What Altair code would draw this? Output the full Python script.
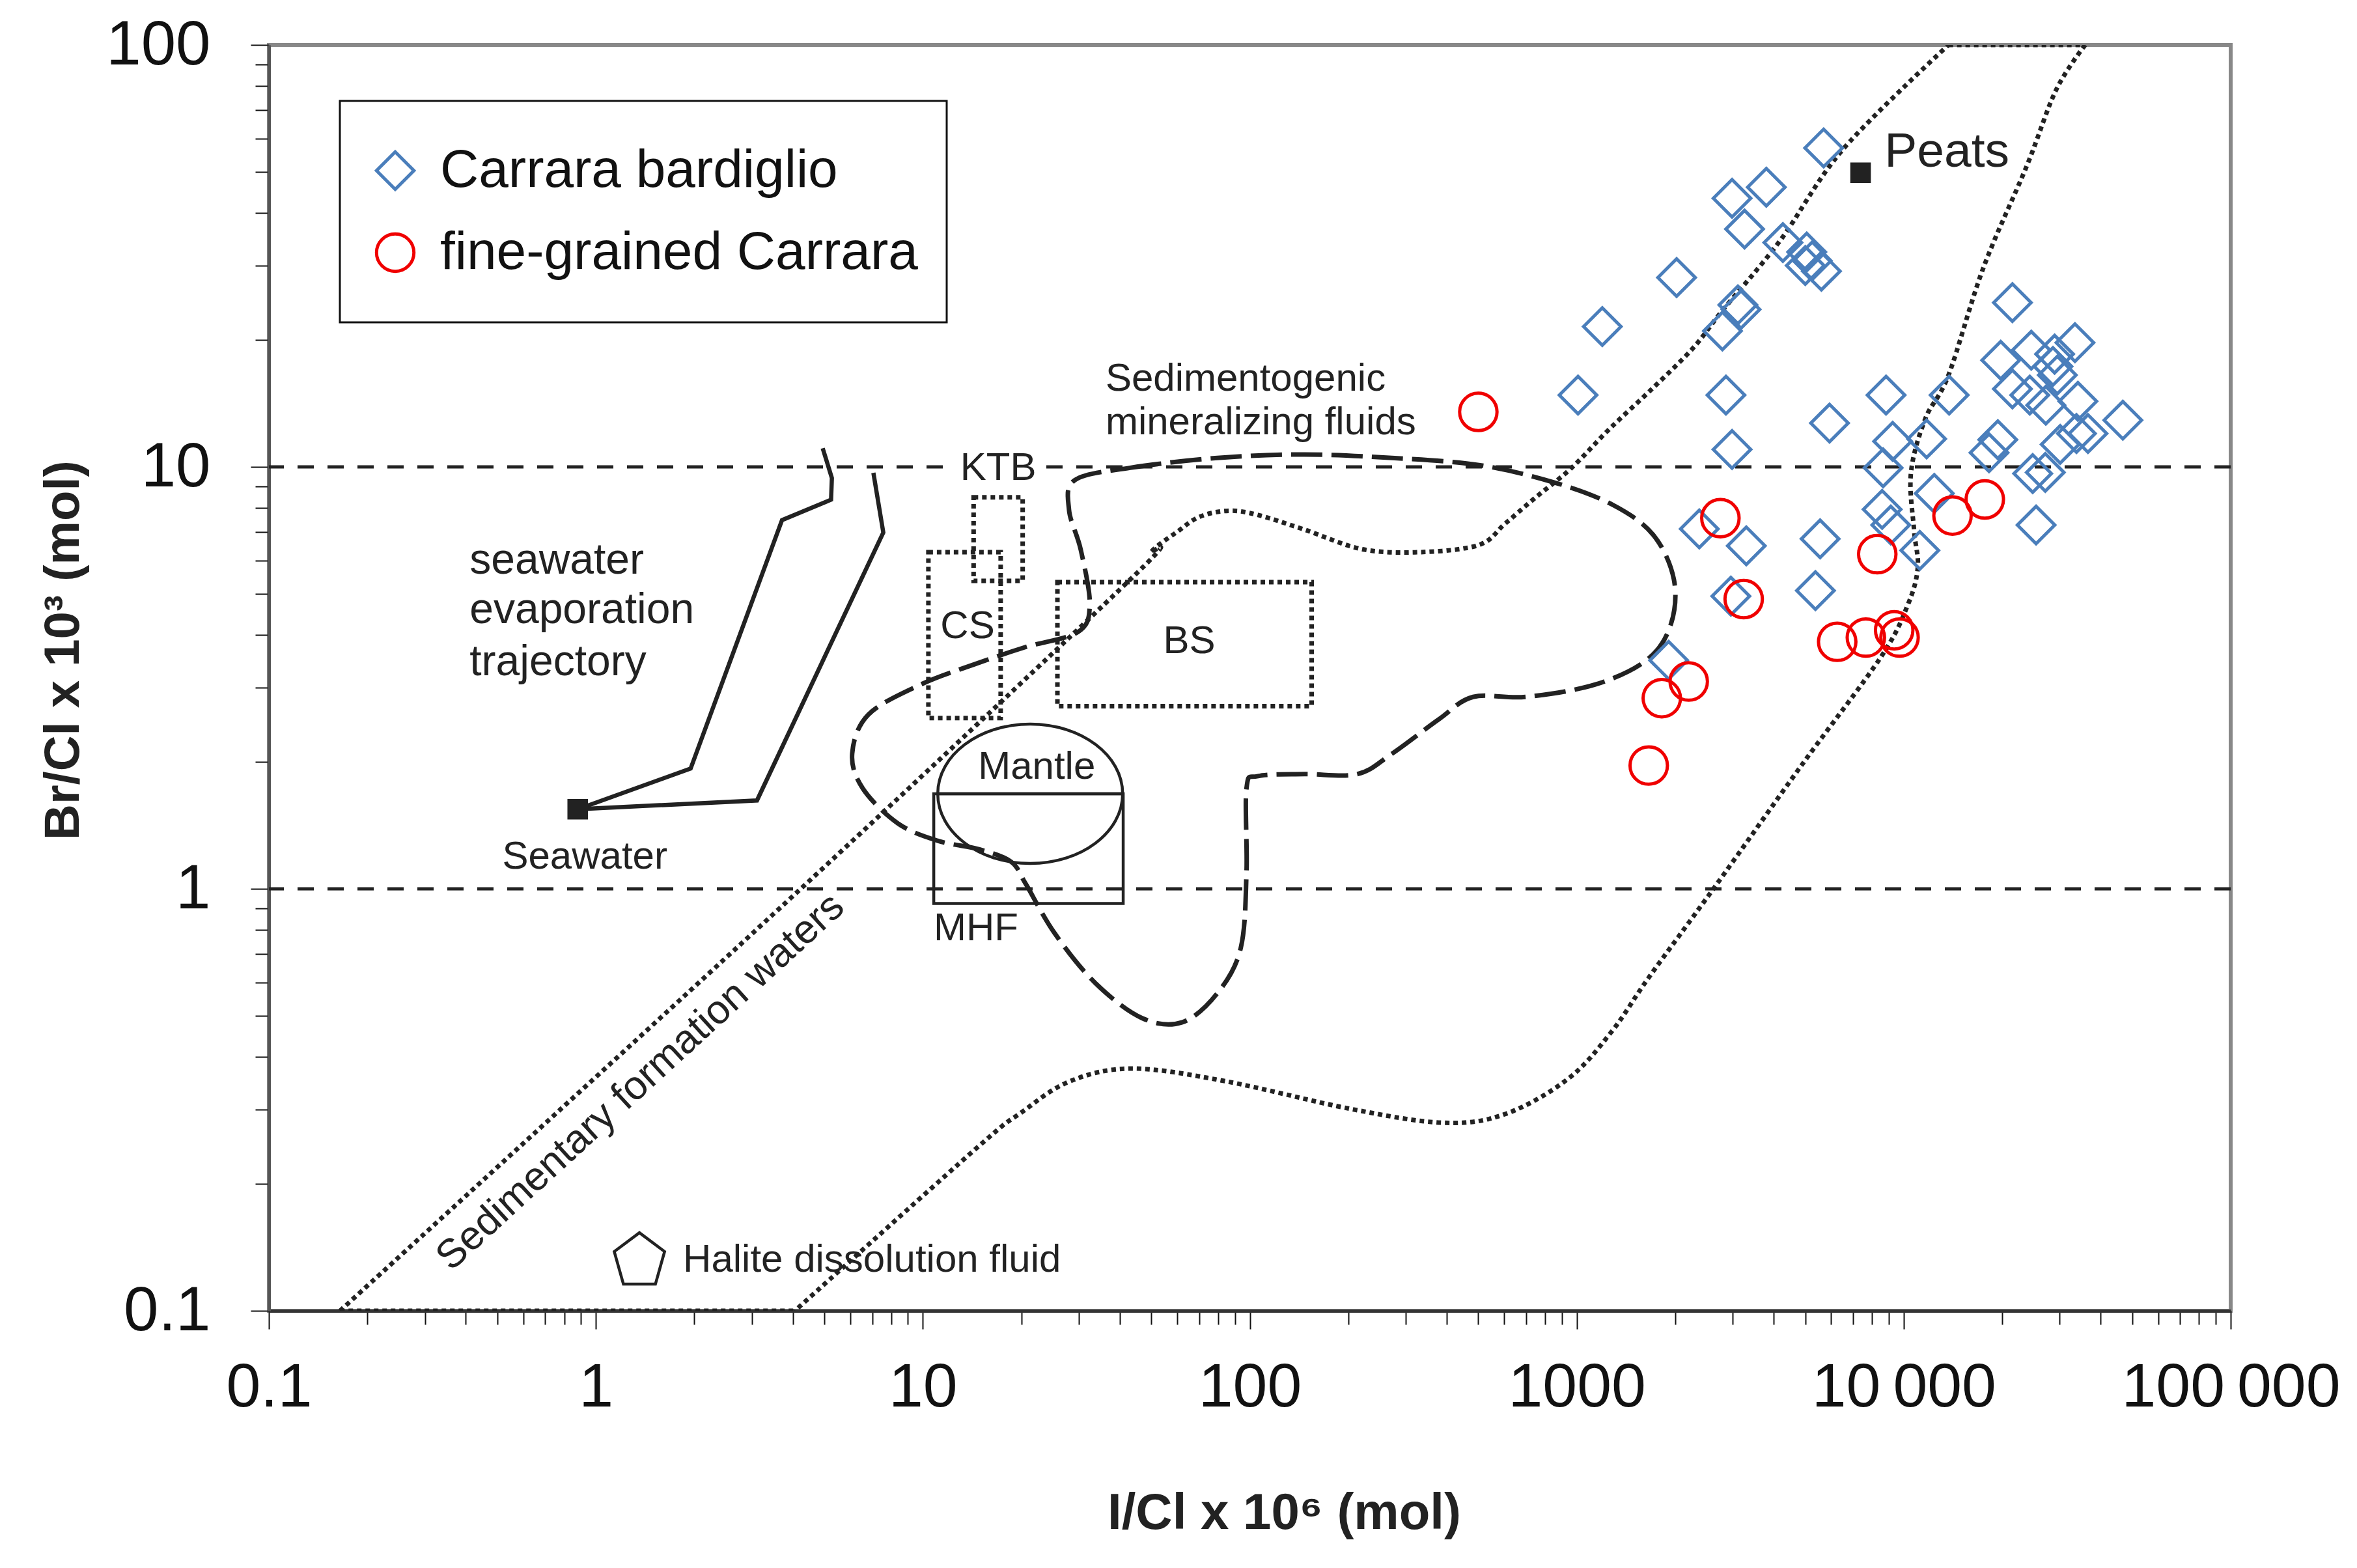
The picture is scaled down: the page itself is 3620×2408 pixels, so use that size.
import json
import altair as alt
import pandas as pd

# ---------------- sample data ----------------
series_names = ["Carrara bardiglio", "fine-grained Carrara"]

bard_x = [5690, 3800, 2985, 3260, 4270, 5050, 5250, 5000, 5600, 2020, 3110, 3180, 2790, 1197,
          21500, 19800, 24550, 33400, 28940, 28600, 29500, 21500, 24300, 27200, 34100, 46800,
          33750, 36600, 30100, 19400, 18240, 24800, 27100, 25400,
          1009, 2860, 8830, 13770, 5930, 9250, 11750, 2985, 8650, 12400, 8590, 9130, 11200,
          2370, 3300, 5550, 5370, 2960, 1910]
bard_y = [57, 46, 43.3, 36.6, 34.0, 32.3, 30.8, 30.0, 29.1, 28.1, 24.2, 23.6, 21.0, 21.5,
          24.5, 17.9, 18.9, 19.7, 18.5, 17.3, 16.5, 15.3, 14.8, 14.0, 14.3, 12.9,
          12.0, 12.0, 11.3, 11.6, 10.8, 9.64, 9.7, 7.28,
          14.8, 14.8, 14.8, 14.8, 12.7, 11.5, 11.65, 11.0, 9.95, 8.65, 7.93, 7.28, 6.34,
          7.13, 6.50, 6.75, 5.09, 4.94, 3.48]

fine_x = [500, 2750, 3240, 8300, 14100, 17700, 6260, 7660, 9350, 9710, 2200, 1820, 1660]
fine_y = [13.5, 7.56, 4.86, 6.21, 7.67, 8.37, 3.85, 3.94, 4.10, 3.94, 3.10, 2.83, 1.96]

# reference end-members (black squares)
ref_names = ["Peats", "Seawater"]
ref_x = [7380, 0.88]
ref_y = [49.8, 1.544]

# seawater evaporation trajectory (two solid lines)
traj1_x = [0.88, 1.949, 3.71, 5.24, 5.27, 4.94]
traj1_y = [1.544, 1.928, 7.48, 8.36, 9.41, 11.07]
traj2_x = [0.88, 3.11, 7.57, 7.06]
traj2_y = [1.544, 1.62, 6.99, 9.68]

# sedimentogenic mineralizing fluids field (dashed closed curve)
sed_x = [29.2, 43.1, 79.6, 147, 272, 502, 855, 1288, 1714, 1982, 1941, 1648, 1140, 697, 482,
         378, 272, 213, 147, 106, 97.7, 97.7, 93.8, 79.6, 62.2, 46.8, 33.7, 25.3, 20.6, 18.6,
         14.9, 11.1, 8.38, 6.55, 6.08, 6.82, 9.86, 14.3, 20.6, 29.8, 32.4, 30.4, 28.0]
sed_y = [9.31, 9.95, 10.5, 10.7, 10.5, 10.1, 9.18, 8.13, 6.90, 5.41, 4.24, 3.50, 3.05, 2.85, 2.85,
         2.52, 2.09, 1.87, 1.87, 1.85, 1.73, 1.09, 0.723, 0.566, 0.483, 0.494, 0.598, 0.785, 1.03, 1.16,
         1.24, 1.30, 1.43, 1.73, 2.09, 2.59, 3.05, 3.40, 3.74, 4.06, 4.72, 6.37, 7.91]

# sedimentary formation waters field (dotted), split into four edges
sfw_left_x = [0.165, 4.19, 43.1, 50.1, 59.7, 70.3, 86.3, 106, 147, 221, 333, 502, 603, 741, 962,
              1259, 1698, 2265, 2780, 4178, 6561, 13710]
sfw_left_y = [0.1, 0.993, 5.41, 6.31, 7.00, 7.62, 7.87, 7.69, 7.10, 6.38, 6.28, 6.53, 7.33, 8.41, 9.93,
              12.3, 15.3, 19.1, 23.4, 34.3, 56.9, 100]
sfw_right_x = [35890, 29240, 23820, 17540, 13710, 11640, 10520, 10760, 11040, 10280, 8490, 4887,
               2642, 1667, 1279, 942, 607, 392, 203, 84.3, 43.8, 28.2, 20.0, 14.6, 4.06]
sfw_right_y = [100, 78.2, 51.8, 29.7, 16.5, 13.0, 9.66, 7.06, 5.77, 4.70, 3.53, 1.97,
               1.01, 0.619, 0.459, 0.355, 0.293, 0.279, 0.301, 0.350, 0.375, 0.350, 0.295, 0.243, 0.1]
sfw_top_x = [13710, 35890]
sfw_top_y = [100, 100]
sfw_bottom_x = [0.165, 4.06]
sfw_bottom_y = [0.1, 0.1]

# dotted boxes
box_names = ["KTB", "CS", "BS"]
box_x1 = [14.3, 10.4, 25.8]
box_x2 = [20.2, 17.3, 154.6]
box_y1 = [5.37, 2.54, 2.71]
box_y2 = [8.47, 6.28, 5.33]

# MHF solid box
mhf_x1, mhf_x2, mhf_y1, mhf_y2 = [10.8], [41.0], [0.923], [1.68]
# white patch behind the KTB label
ktb_bg_x1, ktb_bg_x2, ktb_bg_y1, ktb_bg_y2 = [12.2], [23.6], [9.06], [10.8]

# mantle ellipse centre, halite pentagon centre
mantle_x, mantle_y = [21.3], [1.68]
halite_x, halite_y = [1.359], [0.1319]

# horizontal reference lines
hline_y = [10, 1]

# annotation texts
left_text = ["Sedimentogenic", "mineralizing fluids", "Halite dissolution fluid",
             "seawater", "evaporation", "trajectory", "Peats"]
left_x = [36.2, 36.2, 1.848, 0.411, 0.411, 0.411, 8730]
left_y = [16.16, 12.74, 0.1318, 6.0, 4.57, 3.44, 55.9]
left_fs = [60, 60, 60, 66, 66, 66, 75]

center_text = ["KTB", "CS", "BS", "Mantle", "MHF", "Seawater"]
center_x = [17.0, 13.7, 65.3, 22.3, 14.54, 0.925]
center_y = [9.93, 4.19, 3.86, 1.944, 0.805, 1.19]
center_fs = [60, 60, 60, 60, 60, 60]

rot_text = ["Sedimentary formation waters"]
rot_x = [1.368]
rot_y = [0.349]

# axis ticks / labels
x_major = [0.1, 1, 10, 100, 1000, 10000, 100000]
x_major_labels = ["0.1", "1", "10", "100", "1000", "10\u2009000", "100\u2009000"]
y_major = [0.1, 1, 10, 100]
y_major_labels = ["0.1", "1", "10", "100"]
minor_mult = [2, 3, 4, 5, 6, 7, 8, 9]
x_minor = [round(m * d, 6) for d in x_major[:-1] for m in minor_mult]
y_minor = [round(m * d, 6) for d in y_major[:-1] for m in minor_mult]

# ---------------- styling ----------------
INK = "#222222"
BLUE = "#4a7ebb"
RED = "#f00000"
FONT = "Liberation Sans"


def label_expr(vals, labs):
    return (f"{json.dumps(labs, ensure_ascii=False)}[indexof({json.dumps(vals)}, datum.value)] || ''")


def major_test(vals):
    return f"indexof({json.dumps(vals)}, datum.value) >= 0"


x_axis = alt.Axis(
    values=sorted(x_major + x_minor), labelExpr=label_expr(x_major, x_major_labels),
    tickSize={"condition": {"test": major_test(x_major), "value": 28}, "value": 21},
    tickColor="#111", tickWidth=2, domainColor="#333", domainWidth=5, grid=False,
    labelFontSize=95, labelColor="#111", labelFont=FONT, labelPadding=43,
    labelFlush=False, labelOverlap=False, labelLimit=1000,
    title="I/Cl x 10\u2076 (mol)", titleFont=FONT, titleFontSize=78, titleFontWeight="bold",
    titleColor=INK, titleX=1559, titleY=334, titleAlign="center", titleBaseline="alphabetic",
)
y_axis = alt.Axis(
    values=sorted(y_major + y_minor), labelExpr=label_expr(y_major, y_major_labels),
    tickSize={"condition": {"test": major_test(y_major), "value": 28}, "value": 21},
    tickColor="#111", tickWidth=2, domainColor="#555", domainWidth=5, grid=False,
    labelFontSize=96, labelColor="#111", labelFont=FONT, labelPadding=62,
    labelFlush=False, labelOverlap=False, labelLimit=1000,
    title="Br/Cl x 10\u00b3 (mol)", titleFont=FONT, titleFontSize=76, titleFontWeight="bold",
    titleColor=INK, titleAngle=270, titleX=-316, titleY=929, titleAlign="center",
    titleBaseline="middle",
)

xs = alt.Scale(type="log", domain=[0.1, 100000], nice=False)
ys = alt.Scale(type="log", domain=[0.1, 100], nice=False)


def X(f="x"):
    return alt.X(f"{f}:Q", scale=xs, axis=x_axis)


def Y(f="y"):
    return alt.Y(f"{f}:Q", scale=ys, axis=y_axis)


# ---------------- data frames ----------------
samples = pd.DataFrame({
    "x": bard_x + fine_x,
    "y": bard_y + fine_y,
    "series": [series_names[0]] * len(bard_x) + [series_names[1]] * len(fine_x),
})
refs = pd.DataFrame({"x": ref_x, "y": ref_y, "name": ref_names})
traj = pd.DataFrame({
    "x": traj1_x + traj2_x, "y": traj1_y + traj2_y,
    "seg": ["a"] * len(traj1_x) + ["b"] * len(traj2_x),
    "i": list(range(len(traj1_x))) + list(range(len(traj2_x))),
})
sed = pd.DataFrame({"x": sed_x, "y": sed_y, "i": list(range(len(sed_x)))})
sfw_parts = [("left", sfw_left_x, sfw_left_y), ("right", sfw_right_x, sfw_right_y),
             ("top", sfw_top_x, sfw_top_y), ("bottom", sfw_bottom_x, sfw_bottom_y)]
sfw = pd.DataFrame({
    "x": sum([p[1] for p in sfw_parts], []),
    "y": sum([p[2] for p in sfw_parts], []),
    "seg": sum([[p[0]] * len(p[1]) for p in sfw_parts], []),
    "i": sum([list(range(len(p[1]))) for p in sfw_parts], []),
})
boxes = pd.DataFrame({"x": box_x1, "x2": box_x2, "y": box_y1, "y2": box_y2, "name": box_names})
mhf = pd.DataFrame({"x": mhf_x1, "x2": mhf_x2, "y": mhf_y1, "y2": mhf_y2})
ktb_bg = pd.DataFrame({"x": ktb_bg_x1, "x2": ktb_bg_x2, "y": ktb_bg_y1, "y2": ktb_bg_y2})
mantle = pd.DataFrame({"x": mantle_x, "y": mantle_y})
halite = pd.DataFrame({"x": halite_x, "y": halite_y})
hlines = pd.DataFrame({"y": hline_y})
tleft = pd.DataFrame({"x": left_x, "y": left_y, "t": left_text, "fs": left_fs})
tcenter = pd.DataFrame({"x": center_x, "y": center_y, "t": center_text, "fs": center_fs})
trot = pd.DataFrame({"x": rot_x, "y": rot_y, "t": rot_text})

# ---------------- layers ----------------
l_hlines = alt.Chart(hlines).mark_rule(color=INK, strokeWidth=5, strokeDash=[25, 21]).encode(y=Y())

l_ktbbg = alt.Chart(ktb_bg).mark_rect(color="white").encode(
    x=X(), x2=alt.X2("x2:Q"), y=Y(), y2=alt.Y2("y2:Q"))

l_sfw = alt.Chart(sfw).mark_line(color=INK, strokeWidth=7, strokeDash=[7, 6],
                                 interpolate="cardinal", clip=True).encode(
    x=X(), y=Y(), detail="seg:N", order="i:Q")

l_boxes = alt.Chart(boxes).mark_rect(filled=False, color=INK, strokeWidth=7,
                                     strokeDash=[7, 6]).encode(
    x=X(), x2=alt.X2("x2:Q"), y=Y(), y2=alt.Y2("y2:Q"))

l_mhf = alt.Chart(mhf).mark_rect(filled=False, color=INK, strokeWidth=4.5).encode(
    x=X(), x2=alt.X2("x2:Q"), y=Y(), y2=alt.Y2("y2:Q"))

b = 0.754
k = 0.5523
ellipse_path = (f"M -1 0 C -1 {-k*b:.4f} {-k:.4f} {-b} 0 {-b} "
                f"C {k:.4f} {-b} 1 {-k*b:.4f} 1 0 "
                f"C 1 {k*b:.4f} {k:.4f} {b} 0 {b} "
                f"C {-k:.4f} {b} -1 {k*b:.4f} -1 0 Z M -1 0 L 1 0")
l_mantle = alt.Chart(mantle).mark_point(shape=ellipse_path, filled=False, size=80656,
                                        color=INK, strokeWidth=4.5, opacity=1).encode(x=X(), y=Y())

pentagon_path = "M 0 -1 L 0.92 -0.31 L 0.585 0.88 L -0.585 0.88 L -0.92 -0.31 Z"
l_halite = alt.Chart(halite).mark_point(shape=pentagon_path, filled=False, size=7056,
                                        color=INK, strokeWidth=4.5, opacity=1).encode(x=X(), y=Y())

l_sed = alt.Chart(sed).mark_line(color=INK, strokeWidth=7, strokeDash=[48, 14],
                                 interpolate="cardinal-closed").encode(
    x=X(), y=Y(), order="i:Q")

l_traj = alt.Chart(traj).mark_line(color=INK, strokeWidth=6.5).encode(
    x=X(), y=Y(), detail="seg:N", order="i:Q")

l_refs = alt.Chart(refs).mark_point(shape="square", filled=True, size=1000, color=INK,
                                    opacity=1).encode(x=X(), y=Y())

l_tleft = alt.Chart(tleft).mark_text(align="left", baseline="middle", color=INK, font=FONT).encode(
    x=X(), y=Y(), text="t:N", size=alt.Size("fs:Q", scale=None, legend=None))
l_tcenter = alt.Chart(tcenter).mark_text(align="center", baseline="middle", color=INK,
                                         font=FONT).encode(
    x=X(), y=Y(), text="t:N", size=alt.Size("fs:Q", scale=None, legend=None))
l_trot = alt.Chart(trot).mark_text(align="center", baseline="middle", color=INK, font=FONT,
                                   fontSize=62, angle=317.5).encode(x=X(), y=Y(), text="t:N")

legend_def = alt.Legend(title=None, labelExpr="datum.label + '\u00a0\u00a0'")
l_samples = alt.Chart(samples).mark_point(filled=False, size=3300, strokeWidth=5,
                                          opacity=1).encode(
    x=X(), y=Y(),
    color=alt.Color("series:N", scale=alt.Scale(domain=series_names, range=[BLUE, RED]),
                    legend=legend_def),
    shape=alt.Shape("series:N", scale=alt.Scale(domain=series_names, range=["diamond", "circle"]),
                    legend=legend_def),
)

chart = alt.layer(
    l_hlines, l_ktbbg, l_sfw, l_boxes, l_mhf, l_mantle, l_sed, l_traj, l_refs, l_halite,
    l_tleft, l_tcenter, l_trot, l_samples,
).properties(
    width=3013, height=1944,
    autosize=alt.AutoSizeParams(type="none"),
    padding={"left": 405, "top": 61, "right": 186, "bottom": 387},
    background="white",
).configure(font=FONT).configure_view(
    stroke="#888888", strokeWidth=6,
).configure_legend(
    orient="none", legendX=109, legendY=86, padding=44,
    strokeColor="#111111", strokeWidth=3, fillColor="white",
    labelFont=FONT, labelFontSize=82, labelColor="#111111", labelLimit=2000,
    labelOffset=28, rowPadding=0, clipHeight=126, symbolSize=3300, symbolStrokeWidth=5,
)

chart.save("out.html", embed_options={"renderer": "svg", "actions": False})
